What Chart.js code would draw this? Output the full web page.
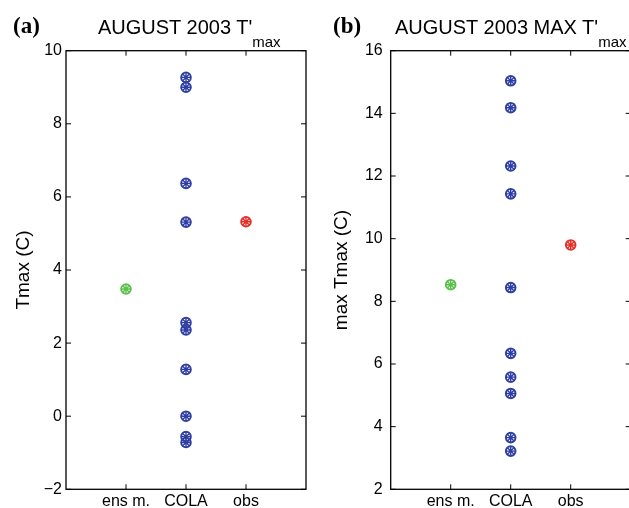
<!DOCTYPE html>
<html><head><meta charset="utf-8">
<script src="https://cdn.jsdelivr.net/npm/chart.js@4"></script>
<style>
html,body{margin:0;padding:0;width:629px;height:508px;overflow:hidden;background:#fff;font-family:"Liberation Sans",Arial,sans-serif;}
.panel{position:absolute;top:0;width:315px;height:508px;}
#pa{left:0}
#pb{left:325px}
.lab{position:absolute;font-family:"Liberation Serif","Times New Roman",serif;font-weight:bold;font-size:23px;line-height:1;top:14px;color:#000;}
.ttl{position:absolute;font-size:20px;line-height:1;top:17px;color:#000;white-space:nowrap;}
.ttl sub{font-size:15px;vertical-align:-13px;line-height:1;}
</style></head>
<body>
<div class="panel" id="pa"><canvas id="ca"></canvas></div>
<div class="panel" id="pb"><canvas id="cb"></canvas></div>
<div class="lab" style="left:13px">(a)</div>
<div class="ttl" style="left:98px">AUGUST 2003 T'<sub>max</sub></div>
<div class="lab" style="left:333px">(b)</div>
<div class="ttl" style="left:395px">AUGUST 2003 MAX T'<sub>max</sub></div>
<script>
// ---- data ----
const categories = ['ens m.', 'COLA', 'obs'];
// panel (a): August 2003 T'max
const colaA = [9.27, 9.0, 6.37, 5.31, 2.56, 2.36, 1.28, 0.0, -0.56, -0.72];
const ensMeanA = [3.48];
const obsA = [5.32];
const yTicksA = [-2, 0, 2, 4, 6, 8, 10];
// panel (b): August 2003 MAX T'max
const colaB = [15.04, 14.18, 12.32, 11.43, 8.44, 6.34, 5.58, 5.06, 3.65, 3.22];
const ensMeanB = [8.53];
const obsB = [9.8];
const yTicksB = [2, 4, 6, 8, 10, 12, 14, 16];

const BLUE = '#2f40a2', GREEN = '#5cc04c', RED = '#e2322a';

const boxTicks = {
  id: 'boxTicks',
  afterDraw(chart) {
    const {ctx, chartArea: a, scales: {x, y}} = chart;
    ctx.save();
    ctx.strokeStyle = '#000';
    ctx.lineWidth = 1.3;
    ctx.strokeRect(a.left, a.top, a.right - a.left, a.bottom - a.top);
    const L = 5;
    ctx.beginPath();
    ctx.lineWidth = 1;
    x.ticks.forEach(t => {
      const px = x.getPixelForValue(t.value);
      ctx.moveTo(px, a.bottom); ctx.lineTo(px, a.bottom - L);
      ctx.moveTo(px, a.top); ctx.lineTo(px, a.top + L);
    });
    y.ticks.forEach(t => {
      const py = y.getPixelForValue(t.value);
      ctx.moveTo(a.left, py); ctx.lineTo(a.left + L, py);
      ctx.moveTo(a.right, py); ctx.lineTo(a.right - L, py);
    });
    ctx.stroke();
    ctx.restore();
  }
};

function markerSets(xIndex, values, color) {
  const pts = values.map(v => ({x: xIndex, y: v}));
  return [
    {data: pts, pointStyle: 'circle', pointRadius: 4.8, pointBorderWidth: 2,
     pointBorderColor: color, pointBackgroundColor: 'rgba(0,0,0,0)', showLine: false},
    {data: pts, pointStyle: 'star', pointRadius: 5, pointBorderWidth: 1.4,
     pointBorderColor: color, pointBackgroundColor: color, showLine: false}
  ];
}

function makePanel(id, ens, cola, obs, yTicks, yTitle, opt) {
  new Chart(document.getElementById(id), {
    type: 'scatter',
    data: {
      datasets: [
        ...markerSets(1, ens, GREEN),
        ...markerSets(2, cola, BLUE),
        ...markerSets(3, obs, RED)
      ]
    },
    options: {
      responsive: true,
      maintainAspectRatio: false,
      animation: false,
      events: [],
      layout: {padding: {top: 50.7, right: opt.right, bottom: 0, left: 0}},
      plugins: {legend: {display: false}, tooltip: {enabled: false}},
      scales: {
        x: {
          type: 'linear', min: 0, max: 4,
          grid: {display: false, drawTicks: false},
          border: {display: false},
          afterBuildTicks: s => { s.ticks = categories.map((c, i) => ({value: i + 1})); },
          afterFit: s => { s.height = 18.7; },
          ticks: {
            autoSkip: false, maxRotation: 0, padding: 3, color: '#000',
            font: {family: '"Liberation Sans", Arial, sans-serif', size: 16},
            callback: v => categories[Math.round(v) - 1]
          }
        },
        y: {
          min: yTicks[0], max: yTicks[yTicks.length - 1],
          grid: {display: false, drawTicks: false},
          border: {display: false},
          afterBuildTicks: s => { s.ticks = yTicks.map(v => ({value: v})); },
          afterFit: s => { s.width = opt.yw; },
          ticks: {
            padding: opt.tickPad, color: '#000',
            font: {family: '"Liberation Sans", Arial, sans-serif', size: 16},
            callback: v => (v < 0 ? '\u2212' + Math.abs(v) : String(v))
          },
          title: {
            display: true, text: yTitle, color: '#000',
            font: {family: '"Liberation Sans", Arial, sans-serif', size: 19},
            padding: {top: opt.titlePad, bottom: 0}
          }
        }
      }
    },
    plugins: [boxTicks]
  });
}

makePanel('ca', ensMeanA, colaA, obsA, yTicksA, 'Tmax (C)', {right: 9, yw: 66, tickPad: 4, titlePad: 12.6});
makePanel('cb', ensMeanB, colaB, obsB, yTicksB, 'max Tmax (C)', {right: 9.3, yw: 65.7, tickPad: 8, titlePad: 5});
</script>
</body></html>
